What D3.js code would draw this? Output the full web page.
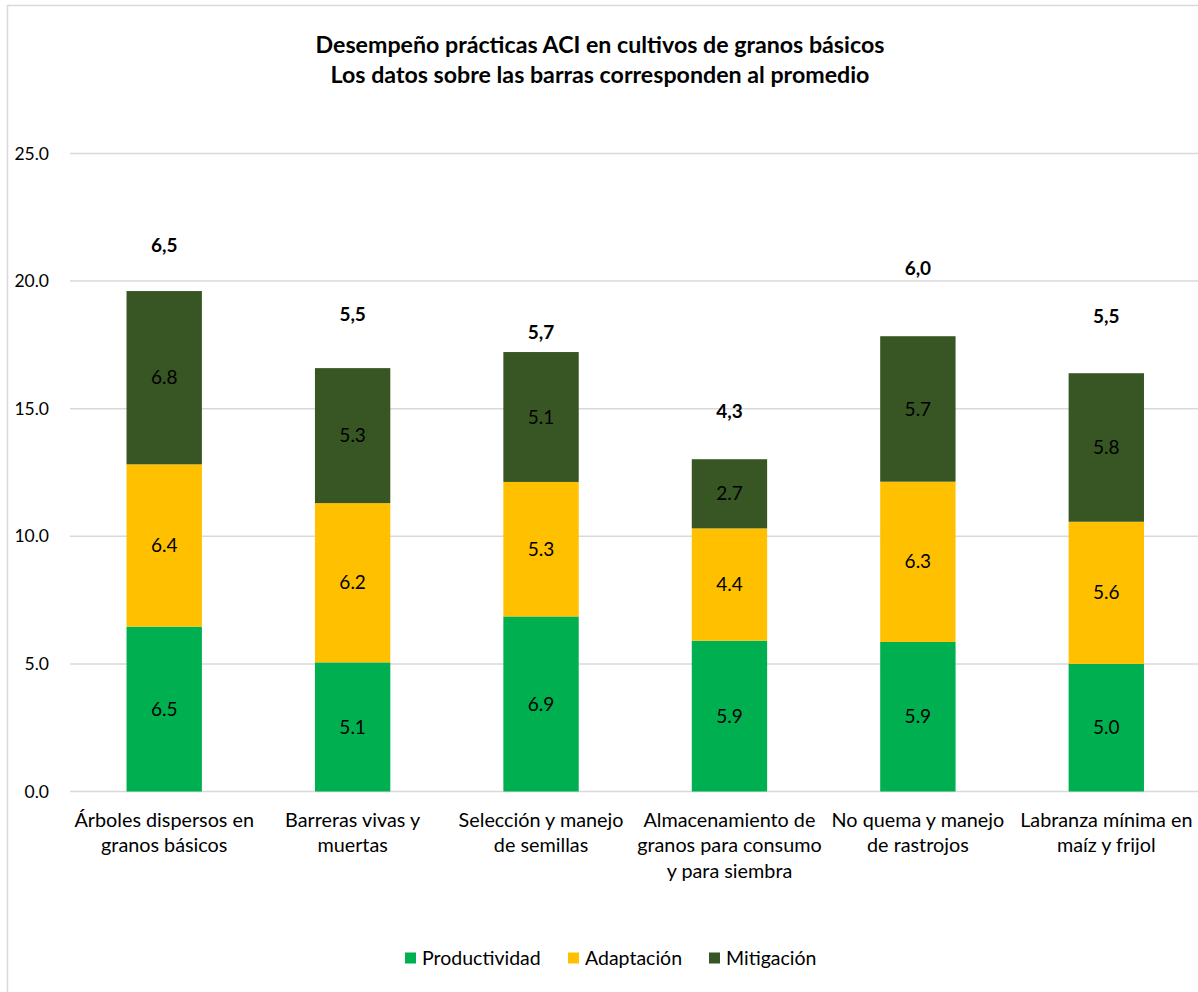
<!DOCTYPE html>
<html>
<head>
<meta charset="utf-8">
<script src="https://cdn.jsdelivr.net/npm/d3@7"></script>
<style>
  html, body { margin: 0; padding: 0; background: #fff; }
  svg { display: block; font-family: Lato, "Open Sans", sans-serif; }
</style>
</head>
<body>
<svg id="chart" width="1198" height="992"></svg>
<script>
const categories = [
  "Árboles dispersos en\ngranos básicos",
  "Barreras vivas y\nmuertas",
  "Selección y manejo\nde semillas",
  "Almacenamiento de\ngranos para consumo\ny para siembra",
  "No quema y manejo\nde rastrojos",
  "Labranza mínima en\nmaíz y frijol"
];
const seriesNames = ["Productividad", "Adaptación", "Mitigación"];
const productividad = [6.46, 5.06, 6.86, 5.91, 5.86, 5.00];
const adaptacion    = [6.36, 6.24, 5.27, 4.40, 6.28, 5.57];
const mitigacion    = [6.79, 5.29, 5.09, 2.71, 5.70, 5.82];
const promedio      = ["6,5", "5,5", "5,7", "4,3", "6,0", "5,5"];
// level (in axis units) at which each average label sits in the reference
const promedioLevel = [21.4, 18.7, 18.0, 14.9, 20.5, 18.6];
const yTicks = [0, 5, 10, 15, 20, 25];
const colors = ["#00B050", "#FFC000", "#375623"];
const titleLines = [
  "Desempeño prácticas ACI en cultivos de granos básicos",
  "Los datos sobre las barras corresponden al promedio"
];

const svg = d3.select("#chart");

// chart frame
svg.append("rect").attr("x", 7.5).attr("y", 5.5).attr("width", 1400).attr("height", 1200)
  .attr("fill", "#fff").attr("stroke", "#d9d9d9").attr("stroke-width", 1.5);

const x = d3.scaleBand().domain(categories).range([70, 1200.5]).paddingInner(0.6).paddingOuter(0.3);
const y = d3.scaleLinear().domain([0, 25]).range([791.5, 153.5]);

// gridlines
svg.append("g").selectAll("line").data(yTicks).join("line")
  .attr("x1", 70).attr("x2", 1198)
  .attr("y1", d => y(d)).attr("y2", d => y(d))
  .attr("stroke", "#d9d9d9").attr("stroke-width", 1.5);

// y tick labels
svg.append("g").selectAll("text").data(yTicks).join("text")
  .attr("x", 49).attr("y", d => y(d)).attr("dy", "0.35em")
  .attr("text-anchor", "end").attr("font-size", 17.5).attr("fill", "#000")
  .text(d => d.toFixed(1));

// stacked data
const rows = categories.map((c, i) => ({
  cat: c, Productividad: productividad[i], "Adaptación": adaptacion[i], "Mitigación": mitigacion[i]
}));
const stacked = d3.stack().keys(seriesNames)(rows);

const layers = svg.append("g").selectAll("g").data(stacked).join("g")
  .attr("fill", (d, i) => colors[i]);
layers.selectAll("rect").data(d => d).join("rect")
  .attr("x", d => x(d.data.cat))
  .attr("width", x.bandwidth())
  .attr("y", d => y(d[1]))
  .attr("height", d => y(d[0]) - y(d[1]));

// segment labels
const lab = svg.append("g");
stacked.forEach(layer => {
  lab.selectAll(null).data(layer).join("text")
    .attr("x", d => x(d.data.cat) + x.bandwidth() / 2)
    .attr("y", d => y((d[0] + d[1]) / 2)).attr("dy", "0.35em")
    .attr("text-anchor", "middle").attr("font-size", 19).attr("fill", "#000")
    .text(d => d.data[layer.key].toFixed(1));
});

// average labels
svg.append("g").selectAll("text").data(categories).join("text")
  .attr("x", d => x(d) + x.bandwidth() / 2)
  .attr("y", (d, i) => y(promedioLevel[i])).attr("dy", "0.35em")
  .attr("text-anchor", "middle").attr("font-size", 19).attr("font-weight", "bold").attr("fill", "#000")
  .text((d, i) => promedio[i]);

// x category labels
const xl = svg.append("g").selectAll("text").data(categories).join("text")
  .attr("text-anchor", "middle").attr("font-size", 19.8).attr("fill", "#000");
xl.each(function(d) {
  const t = d3.select(this);
  d.split("\n").forEach((line, k) => {
    t.append("tspan").attr("x", x(d) + x.bandwidth() / 2)
      .attr("y", 820 + k * 25.5).attr("dy", "0.35em").text(line);
  });
});

// title
svg.append("g").selectAll("text").data(titleLines).join("text")
  .attr("x", 600).attr("y", (d, i) => 45 + i * 30).attr("dy", "0.35em")
  .attr("text-anchor", "middle").attr("font-size", 23.2).attr("font-weight", "bold").attr("fill", "#000")
  .text(d => d);

// legend
const legendX = [405, 568, 709];
const lg = svg.append("g").selectAll("g").data(seriesNames).join("g")
  .attr("transform", (d, i) => `translate(${legendX[i]},958)`);
lg.append("rect").attr("x", 0).attr("y", -5.5).attr("width", 11).attr("height", 11)
  .attr("fill", (d, i) => colors[i]);
lg.append("text").attr("x", 17).attr("y", 0).attr("dy", "0.35em")
  .attr("font-size", 19.5).attr("fill", "#000").text(d => d);
</script>
</body>
</html>
